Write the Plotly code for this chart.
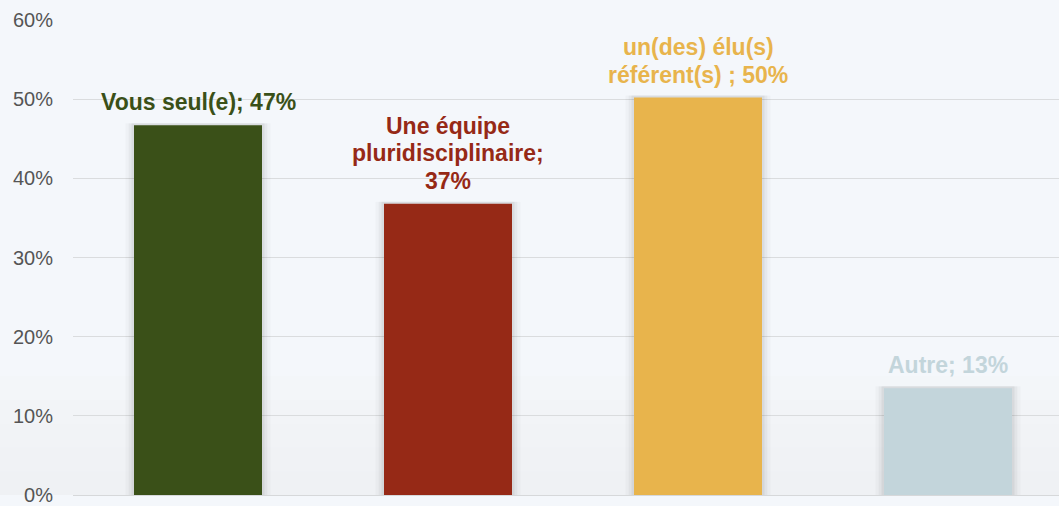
import plotly.graph_objects as go

categories = ["Vous seul(e)", "Une équipe pluridisciplinaire", "un(des) élu(s) référent(s)", "Autre"]
values = [46.7, 36.8, 50.2, 13.5]
labels = ["Vous seul(e); 47%", "Une équipe<br>pluridisciplinaire;<br>37%",
          "un(des) élu(s)<br>référent(s) ; 50%", "Autre; 13%"]
colors = ["#3a5018", "#962916", "#e8b44c", "#c3d5db"]
label_colors = ["#3a5018", "#962916", "#e8b44c", "#c3d5db"]
y_ticks = [0, 10, 20, 30, 40, 50, 60]
y_ticklabels = ["0%", "10%", "20%", "30%", "40%", "50%", "60%"]

x = list(range(len(categories)))
FONT = "Liberation Sans, Arial, Helvetica, sans-serif"
LINE_STEP = 27.5

fig = go.Figure()

# subtle vertical gradient near the bottom of the background
grad = ["#f3f6f9", "#f2f4f7", "#f1f3f6", "#f0f2f5", "#eff1f4"]
for i, c in enumerate(grad):
    fig.add_shape(type="rect", xref="paper", yref="paper", layer="below",
                  x0=-0.1, x1=1.1, y0=0, y1=0.25 - i * 0.05,
                  fillcolor=c, line=dict(width=0))

# soft shadows behind bars
for w, a in [(0.58, 0.025), (0.555, 0.035), (0.532, 0.05)]:
    fig.add_trace(go.Bar(x=x, y=[v + 0.25 for v in values], width=w,
                         marker=dict(color=f"rgba(0,0,0,{a})", line=dict(width=0)),
                         hoverinfo="skip", showlegend=False))
fig.add_trace(go.Bar(x=x, y=values, width=0.512,
                     marker=dict(color=colors, line=dict(width=0)),
                     showlegend=False))

# labels: one annotation per line for tighter line spacing
for xi, v, t, c in zip(x, values, labels, label_colors):
    lines = t.split("<br>")
    for k, line in enumerate(reversed(lines)):
        fig.add_annotation(x=xi, y=v, text=f"<b>{line}</b>", showarrow=False,
                           yanchor="bottom", yshift=8 + k * LINE_STEP,
                           font=dict(family=FONT, size=23, color=c),
                           align="center")

fig.update_layout(
    width=1059, height=506,
    margin=dict(l=73, r=0, t=20, b=5),
    paper_bgcolor="#f4f7fb", plot_bgcolor="rgba(0,0,0,0)",
    barmode="overlay",
    xaxis=dict(range=[-0.5, 3.444], showticklabels=False, showgrid=False,
               zeroline=False, showline=False, fixedrange=True),
    yaxis=dict(range=[0, 60], tickvals=y_ticks, ticktext=y_ticklabels,
               showgrid=True, gridcolor="#dadcde", gridwidth=1,
               zeroline=True, zerolinecolor="#d6d8da", zerolinewidth=1,
               showline=False, ticks="",
               ticklabelstandoff=19, ticklabeloverflow="allow",
               tickfont=dict(family=FONT, size=20, color="#555555")),
)

fig.write_html("out.html", config={"displayModeBar": False},
               post_script="document.body.style.margin='0';document.body.style.background='#eeeeef';")
